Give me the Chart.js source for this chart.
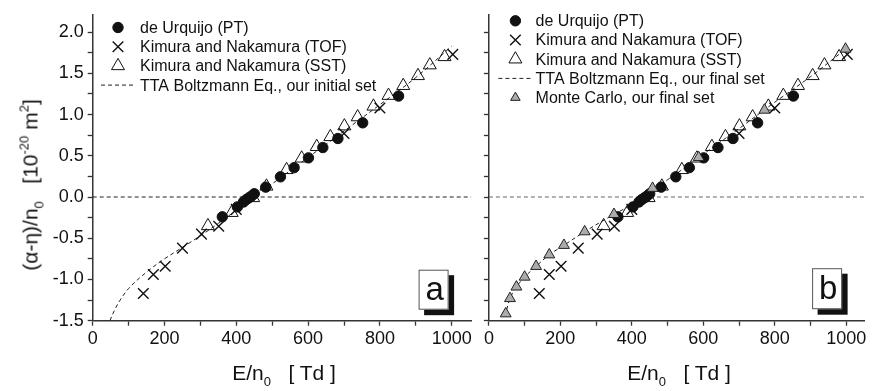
<!DOCTYPE html>
<html>
<head>
<meta charset="utf-8">
<script src="https://cdn.jsdelivr.net/npm/chart.js@4/dist/chart.umd.min.js"></script>
<style>
  html, body { margin: 0; padding: 0; background: #fff; }
  #wrap { position: relative; width: 873px; height: 391px; overflow: hidden; font-family: 'Liberation Sans', Arial, sans-serif; color: #111; }
  canvas { position: absolute; top: 0; }
  .title { position: absolute; white-space: nowrap; font-size: 21px; line-height: 1; }
  .title sub, .title sup { font-size: 13px; line-height: 0; }
  .title sub { vertical-align: -6px; }
  .title sup { vertical-align: 9px; }
</style>
</head>
<body>
<div id="wrap">
  <canvas id="cA" width="480" height="391" style="left:0px"></canvas>
  <canvas id="cB" width="393" height="391" style="left:480px"></canvas>
  <div class="title" id="yTitle" style="left:30px; top:185px; transform: translate(-50%,-50%) rotate(-90deg);">(α-η)/n<sub>0</sub>&nbsp;&nbsp;&nbsp;[10<sup>-20</sup> m<sup>2</sup>]</div>
  <div class="title" id="xTitleA" style="left:284px; top:372px; transform: translate(-50%,-50%);">E/n<sub>0</sub>&nbsp;&nbsp;&nbsp;[ Td ]</div>
  <div class="title" id="xTitleB" style="left:679px; top:372px; transform: translate(-50%,-50%);">E/n<sub>0</sub>&nbsp;&nbsp;&nbsp;[ Td ]</div>
</div>
<script>
// ---------- data ----------
const ptE  = [361, 403, 420, 428, 435, 442, 450, 482, 523, 561, 601, 641, 683, 752, 852];
const ptV  = [-0.24, -0.12, -0.06, -0.03, -0.01, 0.01, 0.04, 0.12, 0.245, 0.356, 0.475, 0.60, 0.71, 0.90, 1.225];

const tofE = [141, 169, 202, 250, 303, 351, 400, 700, 800, 1003];
const tofV = [-1.17, -0.94, -0.84, -0.62, -0.45, -0.355, -0.15, 0.77, 1.08, 1.73];

const sstE = [321, 387, 447, 484, 540, 582, 624, 662, 701, 738, 782, 824, 865, 906, 939, 980];
const sstV = [-0.35, -0.19, -0.01, 0.13, 0.33, 0.47, 0.61, 0.73, 0.86, 0.97, 1.10, 1.23, 1.35, 1.47, 1.60, 1.70];

const mcE  = [47, 59, 77, 100, 132, 169, 210, 268, 350, 458, 587, 771, 998];
const mcV  = [-1.415, -1.23, -1.09, -0.97, -0.84, -0.70, -0.585, -0.42, -0.21, 0.107, 0.48, 1.055, 1.795];

const initE = [48, 60, 75, 100, 150, 200, 250, 300, 350, 400, 450, 500, 600, 700, 800, 900, 1000];
const initV = [-1.5, -1.38, -1.26, -1.11, -0.91, -0.75, -0.61, -0.47, -0.32, -0.16, 0.0, 0.16, 0.48, 0.80, 1.12, 1.45, 1.83];

const finalE = [45, 59, 77, 100, 132, 169, 210, 268, 350, 400, 458, 500, 600, 700, 800, 900, 1000];
const finalV = [-1.45, -1.23, -1.09, -0.97, -0.84, -0.70, -0.585, -0.42, -0.21, -0.09, 0.107, 0.21, 0.52, 0.83, 1.15, 1.46, 1.80];

const zeroE = [0, 1060];
const zeroV = [0, 0];

const labelPT    = 'de Urquijo (PT)';
const labelTOF   = 'Kimura and Nakamura (TOF)';
const labelSST   = 'Kimura and Nakamura (SST)';
const labelInit  = 'TTA Boltzmann Eq., our initial set';
const labelFinal = 'TTA Boltzmann Eq., our final set';
const labelMC    = 'Monte Carlo, our final set';

const xMin = 0, xMaxA = 1054, xMaxB = 1050, xStep = 100;
const yMin = -1.5, yMax = 2.21, yStep = 0.25;

// ---------- helpers ----------
const pts = (xs, ys) => xs.map((x, i) => ({ x, y: ys[i] }));
const FONT = "'Liberation Sans', Arial, sans-serif";

function dsPT() { return { label: labelPT, data: pts(ptE, ptV), showLine: false, pointStyle: 'circle', pointRadius: 5.2, pointBackgroundColor: '#111', pointBorderColor: '#111', pointBorderWidth: 1, order: 1 }; }
function dsTOF() { return { label: labelTOF, data: pts(tofE, tofV), showLine: false, pointStyle: 'crossRot', pointRadius: 7.5, pointBorderColor: '#111', pointBorderWidth: 1.4, order: 2 }; }
function dsSST() { return { label: labelSST, data: pts(sstE, sstV), showLine: false, pointStyle: 'triangle', pointRadius: 7.5, pointBackgroundColor: 'rgba(255,255,255,0)', pointBorderColor: '#111', pointBorderWidth: 1, order: 0 }; }
function dsMC() { return { label: labelMC, data: pts(mcE, mcV), showLine: false, pointStyle: 'triangle', pointRadius: 6.3, pointBackgroundColor: '#ababab', pointBorderColor: '#222', pointBorderWidth: 1, order: -1 }; }
function dsLine(label, xs, ys) { return { label, data: pts(xs, ys), showLine: true, borderColor: '#222', borderWidth: 1, borderDash: [4, 3], pointRadius: 0, tension: 0.35, fill: false, order: 3 }; }
function dsZero(color) { return { label: '', data: pts(zeroE, zeroV), showLine: true, borderColor: color, borderWidth: 1.2, borderDash: [4, 3], pointRadius: 0, fill: false, order: 4 }; }

function drawSymbol(ctx, ds, x, y) {
  ctx.save();
  if (ds.showLine && ds.pointRadius === 0) {
    ctx.strokeStyle = ds.borderColor; ctx.lineWidth = ds.borderWidth; ctx.setLineDash(ds.borderDash || []);
    ctx.beginPath(); ctx.moveTo(x - 17, y); ctx.lineTo(x + 17, y); ctx.stroke();
    ctx.restore(); return;
  }
  const r = ds.pointRadius;
  ctx.lineWidth = ds.pointBorderWidth; ctx.strokeStyle = ds.pointBorderColor; ctx.fillStyle = ds.pointBackgroundColor || 'rgba(0,0,0,0)';
  ctx.beginPath();
  if (ds.pointStyle === 'circle') {
    ctx.arc(x, y, r, 0, Math.PI * 2); ctx.fill(); ctx.stroke();
  } else if (ds.pointStyle === 'crossRot') {
    const d = r * Math.SQRT1_2;
    ctx.moveTo(x - d, y - d); ctx.lineTo(x + d, y + d); ctx.moveTo(x + d, y - d); ctx.lineTo(x - d, y + d); ctx.stroke();
  } else if (ds.pointStyle === 'triangle') {
    const rr = ds.legendRadius || r;
    ctx.moveTo(x, y - rr); ctx.lineTo(x + rr * Math.sin(2 * Math.PI / 3), y + rr / 2); ctx.lineTo(x - rr * Math.sin(2 * Math.PI / 3), y + rr / 2); ctx.closePath(); ctx.fill(); ctx.stroke();
  }
  ctx.restore();
}

const overlayPlugin = {
  id: 'overlay',
  afterDraw(chart, args, opts) {
    const ctx = chart.ctx, a = chart.chartArea;
    // legend
    const L = opts.legend;
    L.items.forEach((idx, i) => {
      const ds = chart.data.datasets[idx];
      const y = a.top + L.top + i * L.row;
      drawSymbol(ctx, Object.assign({}, ds, { legendRadius: ds.pointStyle === 'triangle' && ds.pointRadius < 7 ? 5.5 : ds.pointRadius }), a.left + L.symX, y);
      ctx.save();
      ctx.fillStyle = '#111'; ctx.font = '16px ' + FONT; ctx.textBaseline = 'middle'; ctx.textAlign = 'left';
      ctx.fillText(ds.label, a.left + L.textX, y + 1);
      ctx.restore();
    });
    // panel tag
    const T = opts.tag;
    const bx = a.right - T.right - T.w, by = a.bottom - T.bottom - T.h;
    ctx.save();
    ctx.fillStyle = '#111';
    ctx.fillRect(bx + T.sh, by + T.sh, T.w, T.h);
    ctx.fillStyle = '#fff'; ctx.fillRect(bx, by, T.w, T.h);
    ctx.strokeStyle = '#555'; ctx.lineWidth = 1; ctx.strokeRect(bx + 0.5, by + 0.5, T.w - 1, T.h - 1);
    ctx.fillStyle = '#111'; ctx.font = '33px ' + FONT; ctx.textAlign = 'center'; ctx.textBaseline = 'middle';
    ctx.fillText(T.text, bx + T.w / 2 + 1, by + T.h / 2 + 1);
    ctx.restore();
  }
};

function makeOptions(xMax, yWidth, showYLabels, padRight, legend, tag) {
  return {
    responsive: false,
    animation: false,
    devicePixelRatio: 1,
    layout: { padding: { top: 8, right: padRight, bottom: 0, left: 0 } },
    plugins: { legend: { display: false }, tooltip: { enabled: false }, overlay: { legend, tag } },
    scales: {
      x: {
        type: 'linear', min: xMin, max: xMax,
        border: { display: true, color: '#333', width: 1.5 },
        grid: { drawOnChartArea: false, drawTicks: true, tickLength: 5, tickColor: '#333', tickWidth: 1.3 },
        ticks: {
          stepSize: xStep, includeBounds: false, autoSkip: false, maxRotation: 0, padding: 3,
          color: '#111', font: { family: FONT, size: 18 },
          callback: v => (Math.round(v) % 200 === 0 ? String(Math.round(v)) : '')
        },
        afterFit: s => { s.height = 70.3; }
      },
      y: {
        type: 'linear', min: yMin, max: yMax,
        border: { display: true, color: '#333', width: 1.5 },
        grid: { drawOnChartArea: false, drawTicks: true, tickLength: 5, tickColor: '#333', tickWidth: 1.3 },
        ticks: {
          stepSize: yStep, includeBounds: false, autoSkip: false, padding: 4,
          color: '#111', font: { family: FONT, size: 18 },
          callback: v => (showYLabels && Math.abs(v * 2 - Math.round(v * 2)) < 1e-6 ? v.toFixed(1) : '')
        },
        afterFit: s => { s.width = yWidth; }
      }
    }
  };
}

new Chart(document.getElementById('cA'), {
  type: 'scatter',
  data: { datasets: [dsSST(), dsPT(), dsTOF(), dsLine(labelInit, initE, initV), dsZero('#222')] },
  options: makeOptions(xMaxA, 92.7, true, 4.3,
    { items: [1, 2, 0, 3], top: 12.7, row: 19.2, symX: 25.3, textX: 47.3 },
    { text: 'a', w: 30, h: 40, right: 22.5, bottom: 11, sh: 5.5 }),
  plugins: [overlayPlugin]
});

new Chart(document.getElementById('cB'), {
  type: 'scatter',
  data: { datasets: [dsMC(), dsSST(), dsPT(), dsTOF(), dsLine(labelFinal, finalE, finalV), dsZero('#666')] },
  options: makeOptions(xMaxB, 8.3, false, 3,
    { items: [2, 3, 1, 4, 0], top: 6, row: 19.2, symX: 26.5, textX: 46.7 },
    { text: 'b', w: 30, h: 41, right: 22, bottom: 11.5, sh: 5.5 }),
  plugins: [overlayPlugin]
});
</script>
</body>
</html>
